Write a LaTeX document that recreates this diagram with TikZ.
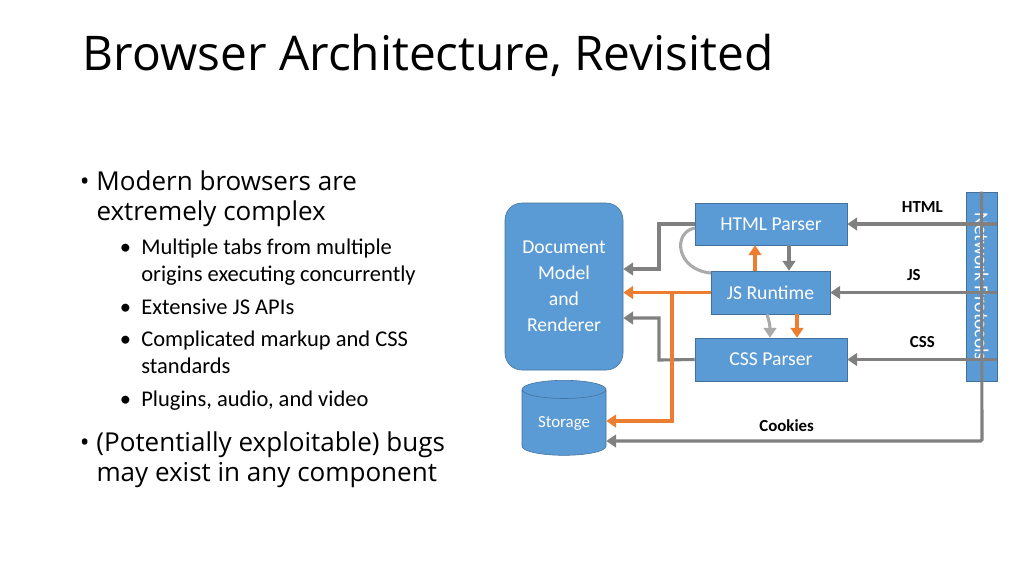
\documentclass[tikz,border=0pt]{standalone}
\usepackage{fontspec}
\setmainfont{Open Sans}
\newfontfamily\calfont{Carlito}
\usetikzlibrary{arrows.meta,shapes.geometric}

\begin{document}
\begin{tikzpicture}[x=0.025cm,y=-0.025cm]
    \definecolor{archblue}{RGB}{91,155,213}
    \definecolor{archedge}{RGB}{65,113,156}
    \definecolor{archgray}{RGB}{128,128,128}
    \definecolor{archlight}{RGB}{170,170,170}
    \definecolor{archorange}{RGB}{237,125,49}
    \tikzset{
        part/.style={shape=rectangle,draw=archedge,fill=archblue,text=white,font=\calfont\fontsize{14}{16}\selectfont,inner sep=0pt},
        flow/.style={line width=2.2pt,draw=archgray,-{Triangle[length=7pt,width=9pt]}},
        tag/.style={font=\calfont\bfseries\fontsize{12}{14}\selectfont}
    }
    \useasboundingbox (0,0) rectangle (1024,575);
    \node[anchor=base west,font=\fontsize{34}{40}\selectfont] (title) at (78,70) {Browser Architecture, Revisited};
    \node[anchor=north west,align=left,font=\fontsize{18.5}{22.5}\selectfont] (bullets) at (75,166) {%
        \textbullet\ Modern browsers are\\[-1pt]
        \phantom{\textbullet\ }extremely complex};
    \node[anchor=north west,align=left,font=\calfont\fontsize{16}{19.2}\selectfont] (sub) at (115,234) {%
        \textbullet\ \ Multiple tabs from multiple\\
        \phantom{\textbullet\ \ }origins executing concurrently\\[4pt]
        \textbullet\ \ Extensive JS APIs\\[4pt]
        \textbullet\ \ Complicated markup and CSS\\
        \phantom{\textbullet\ \ }standards\\[4pt]
        \textbullet\ \ Plugins, audio, and video};
    \node[anchor=north west,align=left,font=\fontsize{18.5}{22.5}\selectfont] (bullets2) at (75,427) {%
        \textbullet\ (Potentially exploitable) bugs\\[-1pt]
        \phantom{\textbullet\ }may exist in any component};

    % boxes
    \node[part,rounded corners=12pt,minimum width=118*0.025cm,minimum height=167*0.025cm,align=center,font=\calfont\fontsize{14}{18.5}\selectfont] (doc) at (564,286.5) {Document\\Model\\and\\Renderer};
    \node[part,minimum width=152*0.025cm,minimum height=42*0.025cm] (html) at (771,224) {HTML Parser};
    \node[part,minimum width=119*0.025cm,minimum height=43*0.025cm] (js) at (770.5,292.5) {JS Runtime};
    \node[part,minimum width=152*0.025cm,minimum height=43*0.025cm] (css) at (771,359.5) {CSS Parser};
    \node[part,minimum width=189*0.025cm,minimum height=31*0.025cm,rotate=-90] (net) at (981.5,286.5) {Network Protocols};
    \node[part,cylinder,shape border rotate=90,aspect=0.35,minimum width=84*0.025cm,minimum height=75*0.025cm,font=\calfont\fontsize{12}{14}\selectfont,text depth=-18pt] (store) at (564,422.5) {Storage};

    % network inputs
    \draw[flow] (net.north |- html.east) -- (html.east) node[tag,pos=0.5,above=4pt] (lhtml) {HTML};
    \draw[flow] (net.north |- js.east) -- (js.east) node[tag,pos=0.5,above=4pt] (ljs) {JS};
    \draw[flow] (net.north |- css.east) -- (css.east) node[tag,pos=0.5,above=4pt] (lcss) {CSS};
    \draw[flow,rounded corners=1pt] (net.west) -- (982,441) -- (store.east |- 0,441) node[tag,pos=0.52,above=2pt] (lcook) {Cookies};

    % to the renderer
    \draw[flow] (html.west) -- (659,224) -- (659,269) -- (doc.east |- 0,269);
    \draw[flow] (css.west) -- (659,360) -- (659,318) -- (doc.east |- 0,318);
    \draw[flow,draw=archorange] (js.west) -- (doc.east |- js.west);
    \draw[flow,draw=archorange] (672,292) -- (672,421) -- (store.east |- 0,421);

    % between parsers
    \draw[flow,draw=archlight,-] (695,228) .. controls (672,232) and (676,270) .. (711,273);
    \draw[flow,draw=archorange] (js.north -| 755,0) -- (html.south -| 755,0);
    \draw[flow] (html.south -| 789,0) -- (js.north -| 789,0);
    \draw[flow,draw=archlight] (js.south -| 767,0) .. controls (770,325) .. (css.north -| 770,0);
    \draw[flow,draw=archorange] (js.south -| 797,0) -- (css.north -| 797,0);
\end{tikzpicture}
\end{document}
